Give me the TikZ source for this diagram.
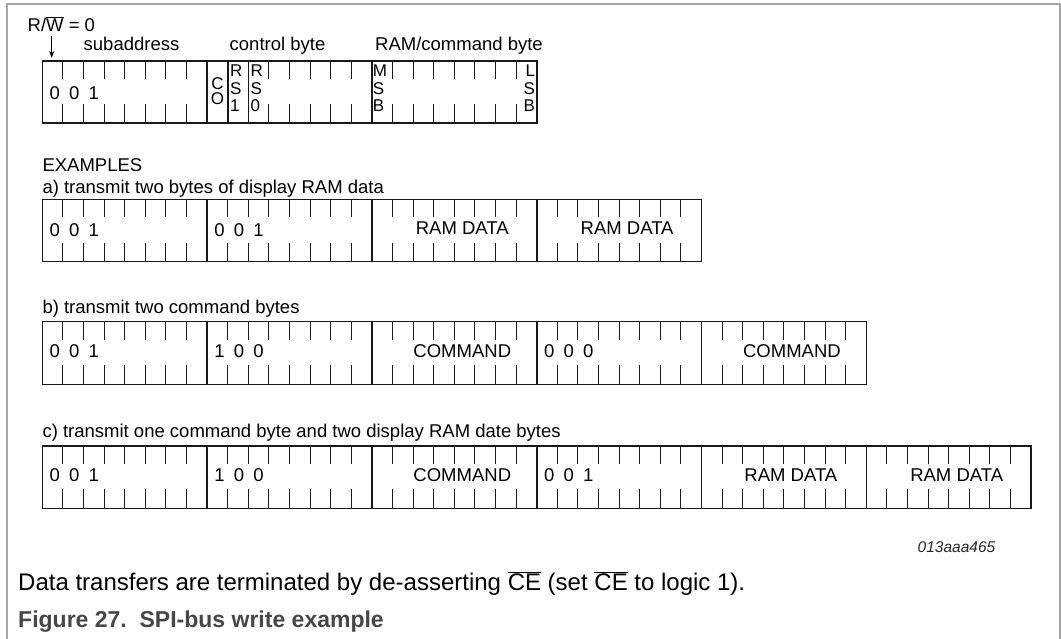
\documentclass[tikz,border=0pt]{standalone}
\usepackage{fontspec}
\setmainfont{Liberation Sans}
\usetikzlibrary{arrows.meta}
\newcommand\regrow[3]{% #1 top y, #2 bottom y, #3 number of bytes
  \draw[regline] (42.3,#1) rectangle ({42.3+164.8*#3},#2);
  \pgfmathtruncatemacro\nbits{8*#3-1}
  \foreach \i in {1,...,\nbits}{
    \draw[tickline] ({42.3+20.6*\i},#1) -- ++(0,18);
    \draw[tickline] ({42.3+20.6*\i},#2) -- ++(0,-19);
  }
  \pgfmathtruncatemacro\nbytes{#3-1}
  \foreach \j in {1,...,\nbytes}{
    \draw[regline] ({42.3+164.8*\j},#1) -- ({42.3+164.8*\j},#2);
  }
}
\newcommand\digitsat[4]{% #1 byte index, #2 y centre, #3 digits, #4 name prefix
  \foreach \d [count=\k from 0] in {#3}
    \node[lbl] (#4\k) at ({42.3+164.8*#1+12.5+19.5*\k},#2) {\d};
}
\begin{document}
\begin{tikzpicture}[x=1pt,y=-1pt,
  lbl/.style={font=\fontsize{18.5}{20}\selectfont, inner sep=0pt},
  stk/.style={font=\fontsize{17}{18}\selectfont, inner sep=0pt},
  regline/.style={line width=1.6pt, draw=black!90},
  tickline/.style={line width=1.1pt, draw=black!90},
  frameline/.style={line width=1.5pt, draw=black!35},
]
\useasboundingbox (0,0) rectangle (1061,639);
\draw[frameline] (7,639) -- (7,4) -- (1060,4) -- (1060,639);

% ---------- format register ----------
\node[lbl, anchor=base west] (rw) at (27.5,31.5) {R/$\overline{\mbox{W}}$ = 0};
\coordinate (arrtop) at (51.7,36);
\coordinate (arrbot) at (51.7,58);
\draw[line width=1pt, -{Stealth[length=7pt,width=5pt]}] (arrtop) -- (arrbot);
\node[lbl, anchor=base] (sub) at (131.5,50.5) {subaddress};
\node[lbl, anchor=base] (ctl) at (277.5,50.5) {control byte};
\node[lbl, anchor=base] (ram) at (459,50.5) {RAM/command byte};

\regrow{61}{123}{3}
\draw[regline] ({42.3+20.6*9},61) -- ({42.3+20.6*9},123);
\draw[regline] ({42.3+20.6*10},61) -- ({42.3+20.6*10},123);
\digitsat{0}{93.5}{0,0,1}{t}
% CO
\node[stk, anchor=base] (co1) at (217.4,90) {C};
\node[stk, anchor=base] (co2) at (217.4,105) {O};
% RS1
\node[stk, anchor=base west] (rsa1) at (230,77) {R};
\node[stk, anchor=base west] (rsa2) at (230,94.5) {S};
\node[stk, anchor=base west] (rsa3) at (230,112) {1};
% RS0
\node[stk, anchor=base west] (rsb1) at (250.5,77) {R};
\node[stk, anchor=base west] (rsb2) at (250.5,94.5) {S};
\node[stk, anchor=base west] (rsb3) at (250.5,112) {0};
% MSB
\node[stk, anchor=base west] (msb1) at (372.6,77) {M};
\node[stk, anchor=base west] (msb2) at (372.6,94.5) {S};
\node[stk, anchor=base west] (msb3) at (372.6,112) {B};
% LSB
\node[stk, anchor=base east] (lsb1) at (535.2,77) {L};
\node[stk, anchor=base east] (lsb2) at (535.2,94.5) {S};
\node[stk, anchor=base east] (lsb3) at (535.2,112) {B};

% ---------- examples ----------
\node[lbl, anchor=base west] (ex) at (42.3,171.7) {EXAMPLES};

% a)
\node[lbl, anchor=base west] (la) at (42.3,194) {a) transmit two bytes of display RAM data};
\regrow{199.5}{261.7}{4}
\digitsat{0}{230.5}{0,0,1}{a}
\digitsat{1}{230.5}{0,0,1}{aa}
\node[lbl] (ad1) at ({42.3+164.8*2.5+8},228.5) {RAM DATA};
\node[lbl] (ad2) at ({42.3+164.8*3.5+8},228.5) {RAM DATA};

% b)
\node[lbl, anchor=base west] (lb) at (42.3,313.3) {b) transmit two command bytes};
\regrow{321.7}{384.3}{5}
\digitsat{0}{351.5}{0,0,1}{b}
\digitsat{1}{351.5}{1,0,0}{bb}
\node[lbl] (bc1) at ({42.3+164.8*2.5+8},351.5) {COMMAND};
\digitsat{3}{351.5}{0,0,0}{bbb}
\node[lbl] (bc2) at ({42.3+164.8*4.5+8},351.5) {COMMAND};

% c)
\node[lbl, anchor=base west] (lc) at (42.3,437.3) {c) transmit one command byte and two display RAM date bytes};
\regrow{445.7}{508.3}{6}
\digitsat{0}{475}{0,0,1}{c}
\digitsat{1}{475}{1,0,0}{cc}
\node[lbl] (cc1) at ({42.3+164.8*2.5+8},475) {COMMAND};
\digitsat{3}{475}{0,0,1}{ccc}
\node[lbl] (cd1) at ({42.3+164.8*4.5+7},475) {RAM DATA};
\node[lbl] (cd2) at ({42.3+164.8*5.5+8},475) {RAM DATA};

% ---------- footer ----------
\node[inner sep=0pt, font=\fontsize{15.5}{18}\selectfont\itshape, text=black!85] (code) at (956.5,546.7) {013aaa465};
\node[anchor=base west, inner sep=0pt, font=\fontsize{24}{28}\selectfont] (note) at (18,590)
  {Data transfers are terminated by de-asserting $\overline{\mbox{CE}}$ (set $\overline{\mbox{CE}}$ to logic 1).};
\node[anchor=base west, inner sep=0pt, font=\fontsize{23}{28}\selectfont\bfseries, text=black!72] (cap) at (18,627.5)
  {Figure 27.\ \ SPI-bus write example};
\end{tikzpicture}
\end{document}
